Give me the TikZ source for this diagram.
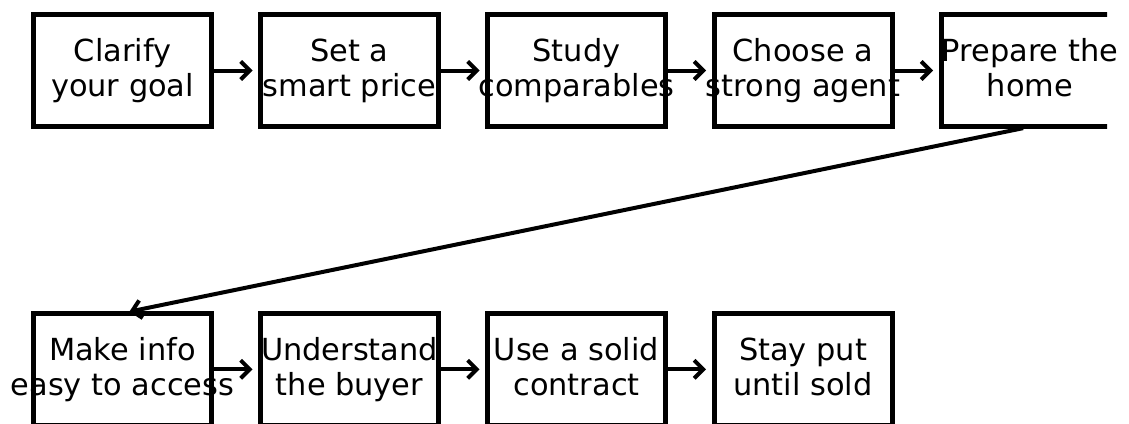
\documentclass[tikz,border=0pt]{standalone}
\usepackage{fontspec}
\setmainfont{DejaVu Sans}
\usetikzlibrary{arrows.meta}
\newcommand\zl[1]{\makebox[0pt]{\rule[-8.6pt]{0pt}{34.6pt}#1}}
\begin{document}
\begin{tikzpicture}[x=1pt,y=-1pt,
  stepbox/.style={minimum width=178pt,minimum height=112.5pt,inner sep=0pt,outer sep=0pt,align=center,font=\fontsize{30.4}{35}\selectfont},
  frame/.style={line width=5pt},
  flow/.style={line width=4pt,-{Straight Barb[length=9pt,width=18pt]}}]
\useasboundingbox (0,0) rectangle (1129,423);
\node[stepbox] (n1) at (122.5,70.5) {\zl{Clarify}\\\zl{your goal}};
\node[stepbox] (n2) at (349.5,70.5) {\zl{Set a}\\\zl{smart price}};
\node[stepbox] (n3) at (576.5,70.5) {\zl{Study}\\\zl{comparables}};
\node[stepbox] (n4) at (803,70.5) {\zl{Choose a}\\\zl{strong agent}};
\node[stepbox] (n5) at (1030,70.5) {\zl{Prepare the}\\\zl{home}};
\node[stepbox] (n6) at (122.5,369.3) {\zl{Make info}\\\zl{easy to access}};
\node[stepbox] (n7) at (349.5,369.3) {\zl{Understand}\\\zl{the buyer}};
\node[stepbox] (n8) at (576.5,369.3) {\zl{Use a solid}\\\zl{contract}};
\node[stepbox] (n9) at (803,369.3) {\zl{Stay put}\\\zl{until sold}};
\begin{scope}
\clip (0,0) rectangle (1107,423);
\foreach \n in {n1,n2,n3,n4,n5,n6,n7,n8,n9}
  \draw[frame] (\n.south west) rectangle (\n.north east);
\end{scope}
\foreach \a/\b in {n1/n2,n2/n3,n3/n4,n4/n5,n6/n7,n7/n8,n8/n9}
  \draw[flow,shorten <=2.5pt,shorten >=8pt] (\a.east) -- (\b.west);
\draw[flow,shorten <=7pt,shorten >=7pt] (n5.south) -- (n6.north);
\end{tikzpicture}
\end{document}
